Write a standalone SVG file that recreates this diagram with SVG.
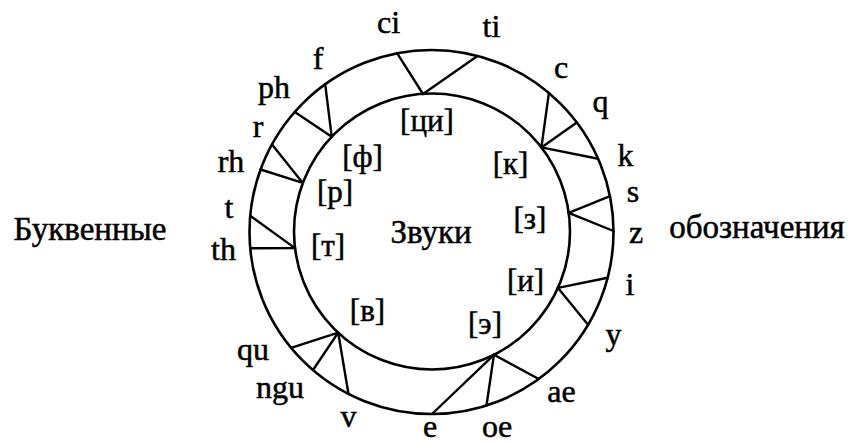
<svg xmlns="http://www.w3.org/2000/svg" width="852" height="443" viewBox="0 0 852 443">
<style>
.ring{fill:none;stroke:#000;stroke-width:2.6}
.ln{stroke:#000;stroke-width:2.4;stroke-linecap:round}
text{font-family:"Liberation Serif",serif;fill:#000;stroke:#000;stroke-width:0.5;text-anchor:middle}
.big{font-size:33px}
.let{font-size:32px}
.snd{font-size:31px}
</style>
<rect width="852" height="443" fill="#fff"/>
<g id="outer-ring"><circle class="ring" cx="431.5" cy="232" r="182"/></g>
<g id="inner-ring"><circle class="ring" cx="432" cy="231.5" r="138"/></g>
<g id="connectors">
<line class="ln" x1="397.2" y1="53.3" x2="423" y2="94"/>
<line class="ln" x1="477.5" y1="55.9" x2="423" y2="94"/>
<line class="ln" x1="325.2" y1="84.3" x2="331.7" y2="136.7"/>
<line class="ln" x1="294.8" y1="111.9" x2="331.7" y2="136.7"/>
<line class="ln" x1="272" y1="144.4" x2="302.8" y2="182.9"/>
<line class="ln" x1="260.6" y1="169.5" x2="302.8" y2="182.9"/>
<line class="ln" x1="250.2" y1="215.8" x2="295" y2="248.1"/>
<line class="ln" x1="250.2" y1="248.2" x2="295" y2="248.1"/>
<line class="ln" x1="548.9" y1="92.9" x2="541.4" y2="147.4"/>
<line class="ln" x1="576.8" y1="122.4" x2="541.4" y2="147.4"/>
<line class="ln" x1="598.1" y1="158.8" x2="541.4" y2="147.4"/>
<line class="ln" x1="610" y1="196.2" x2="568.7" y2="212.9"/>
<line class="ln" x1="613.5" y1="231" x2="568.7" y2="212.9"/>
<line class="ln" x1="607.7" y1="277.7" x2="558" y2="287.9"/>
<line class="ln" x1="588.1" y1="324.7" x2="558" y2="287.9"/>
<line class="ln" x1="538.8" y1="379" x2="493.9" y2="354.8"/>
<line class="ln" x1="486.5" y1="405.5" x2="493.9" y2="354.8"/>
<line class="ln" x1="432" y1="414" x2="493.9" y2="354.8"/>
<line class="ln" x1="291.1" y1="347.8" x2="338.2" y2="332.7"/>
<line class="ln" x1="313" y1="370" x2="338.2" y2="332.7"/>
<line class="ln" x1="348.5" y1="394" x2="338.2" y2="332.7"/>
</g>
<g id="captions">
<text class="big" x="90" y="240">Буквенные</text>
<text class="big" x="757" y="238">обозначения</text>
<text class="big" x="431" y="243">Звуки</text>
</g>
<g id="letters">
<text class="let" x="388.5" y="33">ci</text>
<text class="let" x="491.5" y="37">ti</text>
<text class="let" x="318" y="69">f</text>
<text class="let" x="274" y="98">ph</text>
<text class="let" x="258" y="137">r</text>
<text class="let" x="231" y="172">rh</text>
<text class="let" x="229" y="218">t</text>
<text class="let" x="223.5" y="260">th</text>
<text class="let" x="561" y="78">c</text>
<text class="let" x="600.5" y="112">q</text>
<text class="let" x="625.5" y="166">k</text>
<text class="let" x="633" y="202">s</text>
<text class="let" x="636" y="243">z</text>
<text class="let" x="630" y="295">i</text>
<text class="let" x="613.5" y="345">y</text>
<text class="let" x="561.5" y="402">ae</text>
<text class="let" x="497" y="437">oe</text>
<text class="let" x="430" y="437">e</text>
<text class="let" x="348.5" y="427">v</text>
<text class="let" x="280" y="398">ngu</text>
<text class="let" x="253" y="360">qu</text>
</g>
<g id="sounds">
<text class="snd" x="427" y="131">[ци]</text>
<text class="snd" x="362.5" y="167">[ф]</text>
<text class="snd" x="335" y="202">[р]</text>
<text class="snd" x="328" y="256">[т]</text>
<text class="snd" x="510.5" y="174">[к]</text>
<text class="snd" x="530" y="229">[з]</text>
<text class="snd" x="525.5" y="291">[и]</text>
<text class="snd" x="485" y="334">[э]</text>
<text class="snd" x="367.5" y="321">[в]</text>
</g>
</svg>
